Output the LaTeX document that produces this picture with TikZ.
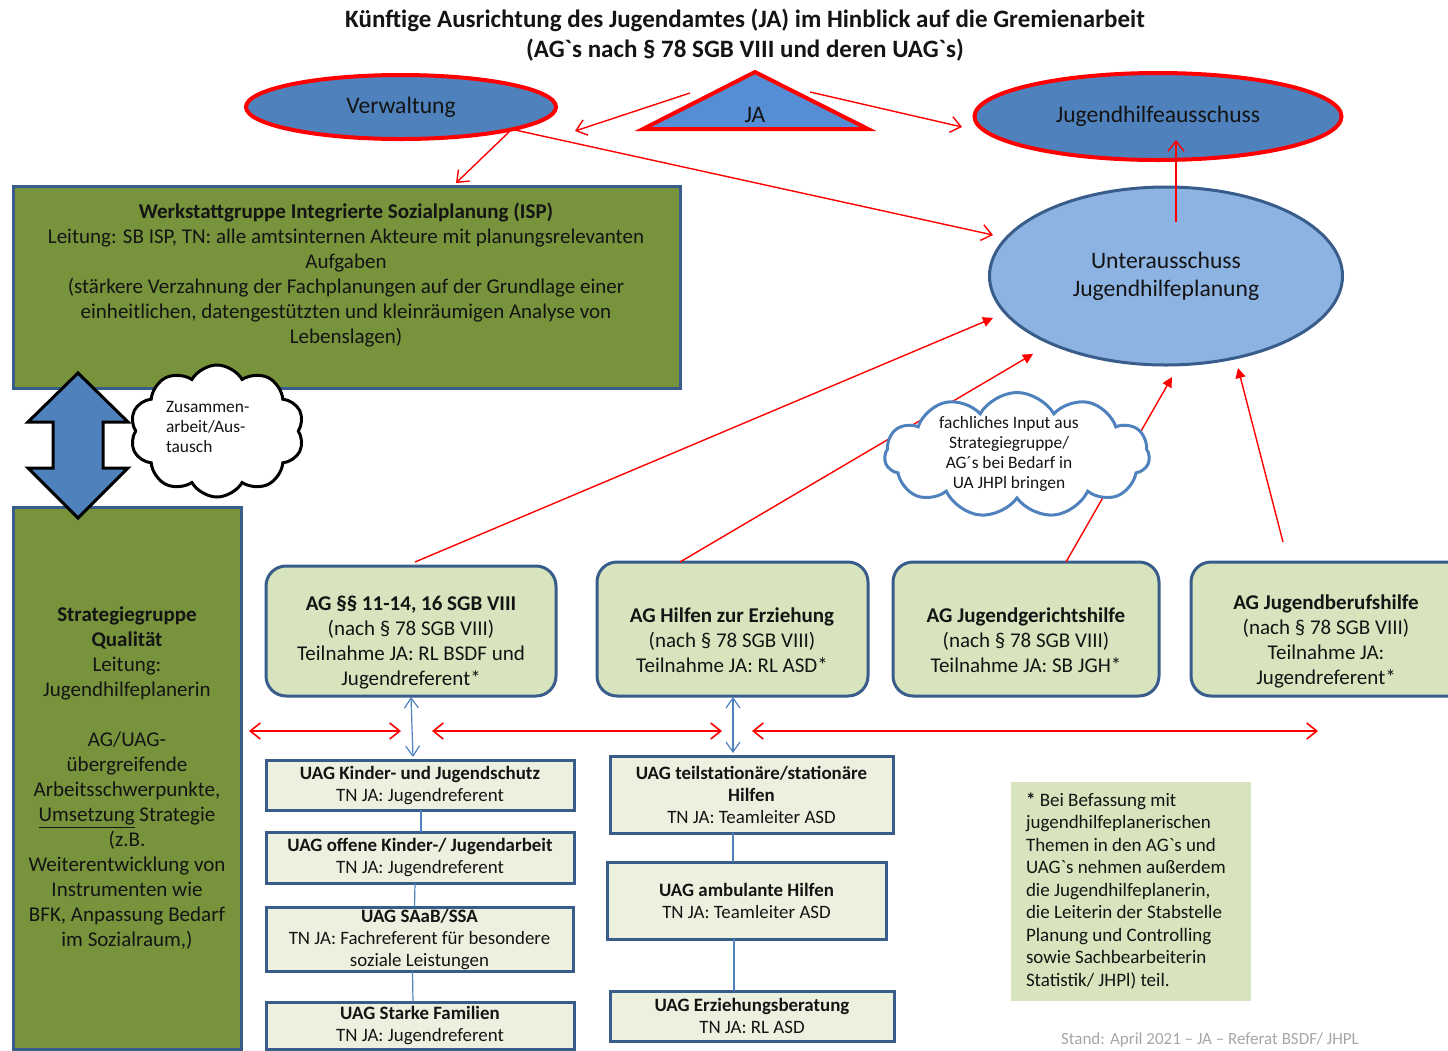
\documentclass[tikz,border=0pt]{standalone}
\usepackage{fontspec}
\setmainfont{Carlito}
\usetikzlibrary{shapes.geometric,shapes.symbols,arrows.meta,calc}
\definecolor{ellblue}{HTML}{4F81BD}
\definecolor{triblue}{HTML}{558ED5}
\definecolor{uafill}{HTML}{8DB3E2}
\definecolor{navy}{HTML}{385D8A}
\definecolor{grn}{HTML}{77933C}
\definecolor{agfill}{HTML}{D7E4BD}
\definecolor{uagfill}{HTML}{EBF1DE}
\definecolor{txt}{HTML}{141414}
\definecolor{standgray}{HTML}{A6A6A6}
\begin{document}
\begin{tikzpicture}[x=0.5pt,y=-0.5pt,
  every node/.style={inner sep=0pt, outer sep=0pt, text=txt},
  redell/.style={ellipse, draw=red, line width=2pt, fill=ellblue, font=\fontsize{11.8}{14}\selectfont},
  greenbox/.style={rectangle, draw=navy, line width=1.5pt, fill=grn},
  agbox/.style={rectangle, rounded corners=10pt, draw=navy, line width=1.5pt, fill=agfill},
  uagbox/.style={rectangle, draw=navy, line width=1.5pt, fill=uagfill, align=center, font=\fontsize{9.45}{11}\selectfont},
  agtext/.style={align=center, font=\fontsize{10.5}{12.5}\selectfont},
  redopen/.style={draw=red, line width=0.7pt, -{Straight Barb[length=5pt,width=8pt]}},
  reddbl/.style={draw=red, line width=0.8pt, {Straight Barb[length=5pt,width=8pt]}-{Straight Barb[length=5pt,width=8pt]}},
  redfill/.style={draw=red, line width=0.7pt, -{Triangle[length=5pt,width=5pt]}},
  bluedbl/.style={draw=ellblue, line width=0.6pt, {Straight Barb[length=5pt,width=7pt]}-{Straight Barb[length=5pt,width=7pt]}},
  blueline/.style={draw=ellblue, line width=0.6pt},
  cloudtext/.style={font=\fontsize{8.7}{10}\selectfont}
]
\useasboundingbox (0,0) rectangle (1448,1051);
\clip (0,0) rectangle (1448,1051);

% title
\node[align=center, font=\fontsize{12.5}{15}\selectfont\bfseries] (title) at (745,35)
  {Künftige Ausrichtung des Jugendamtes (JA) im Hinblick auf die Gremienarbeit\\(AG\textasciigrave s nach § 78 SGB VIII und deren UAG\textasciigrave s)};

% top ellipses and triangle
\node[redell, minimum width=155pt, minimum height=32pt] (verw) at (401,107) {Verwaltung};
\node[redell, minimum width=183.5pt, minimum height=43.5pt] (jha) at (1158,116.5) {Jugendhilfeausschuss};
\draw[draw=red, line width=2pt, fill=triblue, line join=miter] (755,72) -- (868,129) -- (643,129) -- cycle;
\node[font=\fontsize{11.8}{14}\selectfont] (ja) at (755,115) {JA};
\coordinate (jaL) at (690,93);
\coordinate (jaR) at (810,92);
\node[ellipse, draw=navy, line width=1.5pt, fill=uafill, minimum width=176.5pt, minimum height=89pt,
  align=center, font=\fontsize{11.8}{14}\selectfont] (ua) at (1166,276) {Unterausschuss\\Jugendhilfeplanung};

% Werkstattgruppe
\node[greenbox, minimum width=333.5pt, minimum height=101pt] (wsg) at (346.5,287) {};
\node[align=center, font=\fontsize{10.5}{12.5}\selectfont] (wsgtext) at (346,275)
  {\textbf{Werkstattgruppe Integrierte Sozialplanung (ISP)}\\
   Leitung: SB ISP, TN: alle amtsinternen Akteure mit planungsrelevanten\\
   Aufgaben\\
   (stärkere Verzahnung der Fachplanungen auf der Grundlage einer\\
   einheitlichen, datengestützten und kleinräumigen Analyse von\\
   Lebenslagen)};

% Strategiegruppe
\node[greenbox, minimum width=114pt, minimum height=271pt, align=center, font=\fontsize{10.5}{12.5}\selectfont] (sq) at (127,778)
  {\textbf{Strategiegruppe}\\\textbf{Qualität}\\Leitung:\\Jugendhilfeplanerin\\[12.5pt]AG/UAG-\\übergreifende\\Arbeitsschwerpunkte,\\\underline{Umsetzung} Strategie\\(z.B.\\Weiterentwicklung von\\Instrumenten wie\\BFK, Anpassung Bedarf\\im Sozialraum,)};

% AG boxes
\node[agbox, minimum width=145pt, minimum height=65pt] (ag1) at (411,631) {};
\node[agbox, minimum width=135.5pt, minimum height=67pt] (ag2) at (732.5,629) {};
\node[agbox, minimum width=133pt, minimum height=67pt] (ag3) at (1026,629) {};
\node[agbox, minimum width=139.5pt, minimum height=67pt] (ag4) at (1330.5,629) {};
\node[agtext] (ag1t) at (411,642.5) {\textbf{AG §§ 11-14, 16 SGB VIII}\\(nach § 78 SGB VIII)\\Teilnahme JA: RL BSDF und\\Jugendreferent*};
\node[agtext] (ag2t) at (732,640.5) {\textbf{AG Hilfen zur Erziehung}\\(nach § 78 SGB VIII)\\Teilnahme JA: RL ASD*};
\node[agtext] (ag3t) at (1026,640.5) {\textbf{AG Jugendgerichtshilfe}\\(nach § 78 SGB VIII)\\Teilnahme JA: SB JGH*};
\node[agtext] (ag4t) at (1326,641) {\textbf{AG Jugendberufshilfe}\\(nach § 78 SGB VIII)\\Teilnahme JA:\\Jugendreferent*};

% UAG boxes left
\node[uagbox, minimum width=154pt, minimum height=25pt] (u1) at (420,785) {\textbf{UAG Kinder- und Jugendschutz}\\TN JA: Jugendreferent};
\node[uagbox, minimum width=154pt, minimum height=25.5pt] (u2) at (420,857.5) {\textbf{UAG offene Kinder-/ Jugendarbeit}\\TN JA: Jugendreferent};
\node[uagbox, minimum width=153.5pt, minimum height=32pt] (u3) at (419.5,939) {\textbf{UAG SAaB/SSA}\\TN JA: Fachreferent für besondere\\soziale Leistungen};
\node[uagbox, minimum width=154pt, minimum height=23.5pt] (u4) at (420,1025.5) {\textbf{UAG Starke Familien}\\TN JA: Jugendreferent};
% UAG boxes right
\node[uagbox, minimum width=141.5pt, minimum height=38.5pt] (r1) at (751.5,794.5) {\textbf{UAG teilstationäre/stationäre}\\\textbf{Hilfen}\\TN JA: Teamleiter ASD};
\node[uagbox, minimum width=139.5pt, minimum height=38.5pt] (r2) at (746.5,900.5) {\textbf{UAG ambulante Hilfen}\\TN JA: Teamleiter ASD};
\node[uagbox, minimum width=142pt, minimum height=25pt] (r3) at (752,1016) {\textbf{UAG Erziehungsberatung}\\TN JA: RL ASD};

% note
\node[rectangle, fill=agfill, minimum width=120pt, minimum height=109.5pt] (note) at (1131,891.5) {};
\node[anchor=west, align=left, font=\fontsize{9.5}{11.25}\selectfont] (notet) at (1026,891)
  {\textbf{*} Bei Befassung mit\\jugendhilfeplanerischen\\Themen in den AG\textasciigrave s und\\UAG\textasciigrave s nehmen außerdem\\die Jugendhilfeplanerin,\\die Leiterin der Stabstelle\\Planung und Controlling\\sowie Sachbearbeiterin\\Statistik/ JHPl) teil.};

% footer
\node[anchor=base, text=standgray, font=\fontsize{8.5}{10}\selectfont] (stand) at (1210,1044) {Stand: April 2021 -- JA -- Referat BSDF/ JHPL};

% connectors: red
\draw[redopen] (jaL) -- ($(verw.center)+(174,24)$);
\draw[redopen] (jaR) -- ($(jha.center)+(-196,10.5)$);
\draw[redopen] ($(verw.center)+(109,24)$) -- ($(wsg.north)+(109.5,-3)$);
\draw[redopen] ($(verw.center)+(114,23)$) -- ($(ua.center)+(-173,-41)$);
\draw[redopen] ($(ua.center)+(10,-54)$) -- ($(jha.center)+(18,23.5)$);
\draw[redfill] ($(ag1.north)+(4,-4)$) -- ($(ua.center)+(-173,42)$);
\draw[redfill] ($(ag2.north)+(-52.5,0)$) -- ($(ua.center)+(-133,78)$);
\draw[redfill] ($(ag3.north)+(40,0)$) -- ($(ua.center)+(6,101)$);
\draw[redfill] ($(ag4.north)+(-47.5,-20)$) -- ($(ua.center)+(72,92)$);
\draw[reddbl] ($(sq.east)+(8,-47)$) -- ($(ag1.south)+(-10,35)$);
\draw[reddbl] ($(ag1.south)+(21,35)$) -- ($(ag2.south)+(-10.5,35)$);
\draw[reddbl] ($(ag2.south)+(19.5,35)$) -- ($(ag4.south)+(-12.5,35)$);

% connectors: blue
\draw[bluedbl] ($(ag1.south)+(0,1)$) -- ($(u1.north)+(-7,-3)$);
\draw[bluedbl] ($(ag2.south)+(0.5,1)$) -- ($(r1.north)+(-18.5,-3)$);
\draw[blueline] ($(u1.south)+(1,0)$) -- ($(u2.north)+(1,0)$);
\draw[blueline] ($(u2.south)+(-5,0)$) -- ($(u3.north)+(-5,0)$);
\draw[blueline] ($(u3.south)+(-7,0)$) -- ($(u4.north)+(-7,0)$);
\draw[blueline] ($(r1.south)+(-18.5,0)$) -- ($(r2.north)+(-13.5,0)$);
\draw[blueline] ($(r2.south)+(-12.5,0)$) -- ($(r3.north)+(-18,0)$);

% block double arrow
\draw[fill=ellblue, draw=black, line width=1.5pt, line join=miter]
  (78,373) -- (128,422) -- (103,422) -- (103,468) -- (128,468) -- (78,518) -- (28,468) -- (53,468) -- (53,422) -- (28,422) -- cycle;

% clouds
\node[cloud, draw=black, fill=white, line width=1.5pt, cloud puffs=10, cloud puff arc=120,
  cloud ignores aspect, minimum width=87pt, minimum height=66pt] (zus) at (217,431) {};
\node[cloudtext, anchor=west, align=left] (zust) at (166,427) {Zusammen-\\arbeit/Aus-\\tausch};
\node[cloud, draw=ellblue, fill=white, line width=1.5pt, cloud puffs=11, cloud puff arc=120,
  cloud ignores aspect, minimum width=132.5pt, minimum height=62.5pt] (fach) at (1017,455) {};
\node[cloudtext, align=center] (facht) at (1009,454) {fachliches Input aus\\Strategiegruppe/\\AG´s bei Bedarf in\\UA JHPl bringen};
\end{tikzpicture}
\end{document}
